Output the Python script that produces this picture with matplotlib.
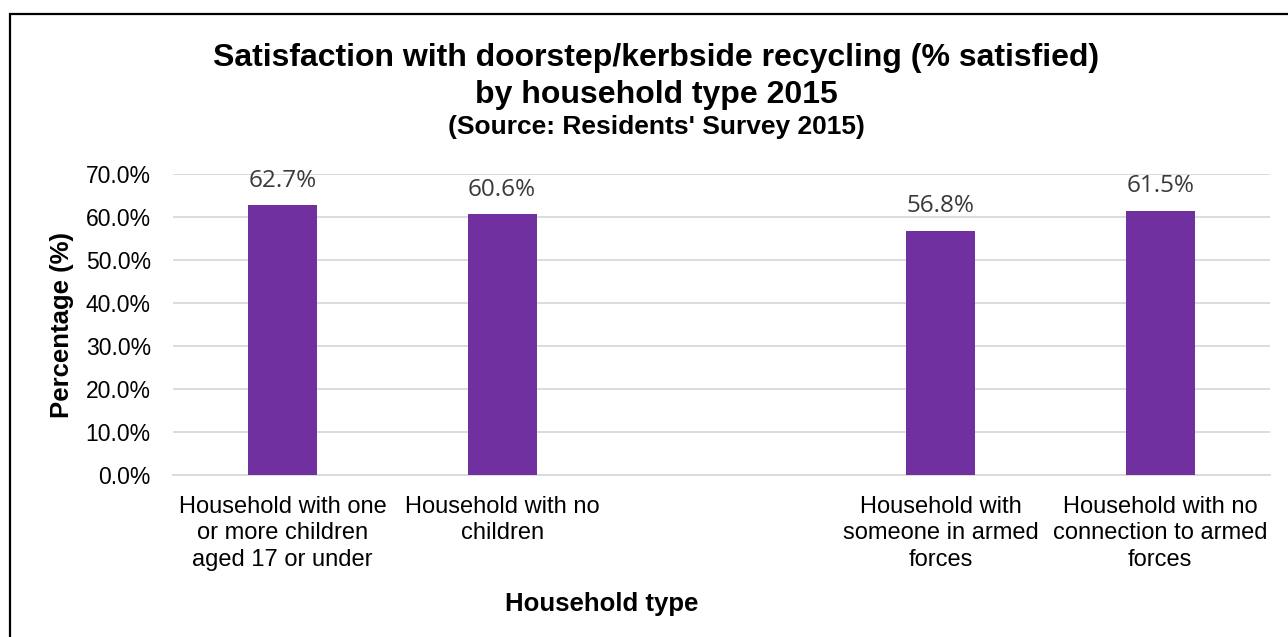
import matplotlib
matplotlib.use("Agg")
import matplotlib.pyplot as plt
from matplotlib.patches import Rectangle
from matplotlib.ticker import FuncFormatter, MultipleLocator

# Residents' Survey 2015 - % satisfied with doorstep/kerbside recycling
categories = [
    "Household with one\nor more children\naged 17 or under",
    "Household with no\nchildren",
    "",
    "Household with\nsomeone in armed\nforces",
    "Household with no\nconnection to armed\nforces",
]
satisfied = [62.7, 60.6, None, 56.8, 61.5]

bar_colour = "#7030A0"
grid_colour = "#D9D9D9"
font = "Liberation Sans"

fig = plt.figure(figsize=(12.88, 6.37), dpi=100)
ax = fig.add_axes([0.1343, 0.2543, 0.8517, 0.4725])

# black border around the chart area
fig.patches.append(Rectangle((10 / 1288, -0.1), 1.2, 1 - 14 / 637 + 0.1,
                             transform=fig.transFigure, fill=False,
                             edgecolor="black", linewidth=1.6, clip_on=False))

xs = [i for i, v in enumerate(satisfied) if v is not None]
vals = [v for v in satisfied if v is not None]
bars = ax.bar(xs, vals, width=0.315, color=bar_colour, zorder=3)

for x, v in zip(xs, vals):
    ax.annotate(f"{v:.1f}%", (x, v), xytext=(0, 9), textcoords="offset points",
                ha="center", va="bottom", fontsize=17.5, family="Open Sans",
                color="#3A3A3A")

ax.set_xlim(-0.5, len(categories) - 0.5)
ax.set_ylim(0, 70)
ax.yaxis.set_major_locator(MultipleLocator(10))
ax.yaxis.set_major_formatter(FuncFormatter(lambda y, _: f"{y:.1f}%"))
ax.set_xticks(range(len(categories)))
ax.set_xticklabels(categories, family=font, fontsize=17, linespacing=1.26)
for lbl in ax.get_yticklabels():
    lbl.set_family(font)
    lbl.set_fontsize(16.5)
ax.tick_params(axis="both", length=0, colors="#000000")
ax.tick_params(axis="x", pad=15)
ax.tick_params(axis="y", pad=16)

ax.grid(axis="y", color=grid_colour, linewidth=1.3, zorder=0)
for side in ["top", "right", "left"]:
    ax.spines[side].set_visible(False)
ax.spines["bottom"].set_color(grid_colour)
ax.spines["bottom"].set_linewidth(1.3)

fig.text(656 / 1288, 1 - 58 / 637,
         "Satisfaction with doorstep/kerbside recycling (% satisfied)",
         ha="center", va="center", fontsize=23, fontweight="bold", family=font)
fig.text(656 / 1288, 1 - 95 / 637, "by household type 2015",
         ha="center", va="center", fontsize=23, fontweight="bold", family=font)
fig.text(656 / 1288, 1 - 127 / 637, "(Source: Residents' Survey 2015)",
         ha="center", va="center", fontsize=19, fontweight="bold", family=font)

fig.text(62 / 1288, 1 - 325 / 637, "Percentage (%)", rotation=90,
         ha="center", va="center", fontsize=18.5, fontweight="bold", family=font)
fig.text(602 / 1288, 1 - 604 / 637, "Household type",
         ha="center", va="center", fontsize=18.5, fontweight="bold", family=font)

fig.savefig("out.png", dpi=100, facecolor="white")
